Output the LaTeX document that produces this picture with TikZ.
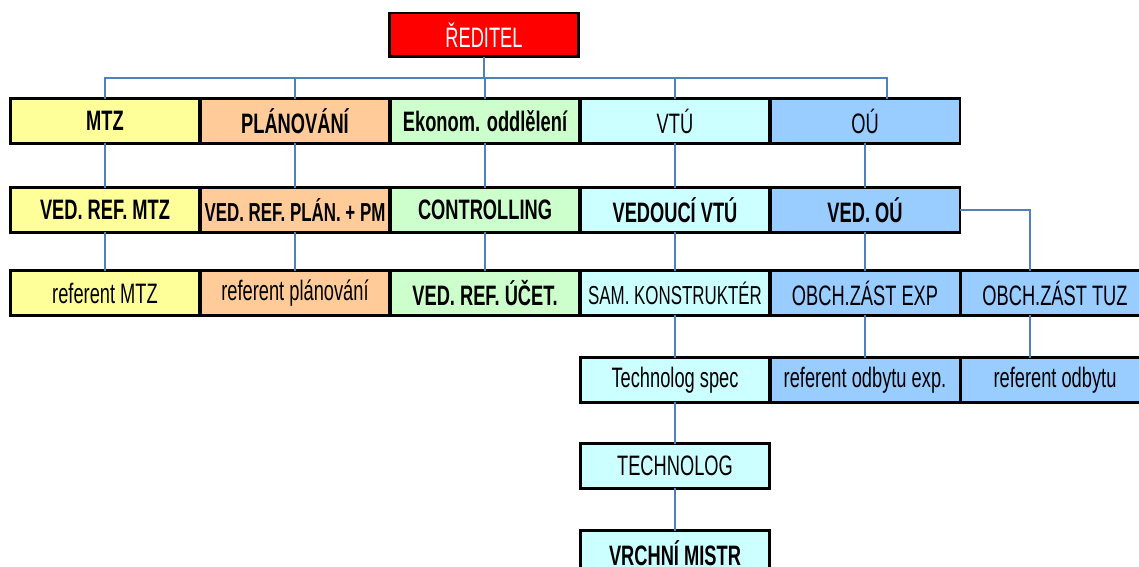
\documentclass[tikz,border=0pt]{standalone}
\usepackage{fontspec}
\setmainfont{Liberation Sans}[FakeStretch=0.65]
\newcommand{\bx}{\fontsize{16}{18}\selectfont}
\newcommand{\sx}{\fontsize{14.8}{17}\selectfont}
\definecolor{yel}{HTML}{FFFF99}
\definecolor{peach}{HTML}{FFCC99}
\definecolor{mint}{HTML}{CCFFCC}
\definecolor{aqua}{HTML}{CCFFFF}
\definecolor{sky}{HTML}{99CCFF}
\definecolor{linkblue}{HTML}{4F81BD}
\tikzset{
  box/.style={draw, line width=1.7pt, minimum width=3.8cm, minimum height=0.9cm,
    inner sep=0pt, outer sep=0pt, font=\bx},
  strong/.style={font=\bx\bfseries},
  link/.style={draw=linkblue, line width=0.8pt}
}
\begin{document}
\begin{tikzpicture}[x=0.02cm, y=-0.02cm]
\clip (0,0) rectangle (1139,567);
\coordinate (bus) at (0,78);

\node[box, fill=red, text=white, minimum height=0.88cm] (reditel) at (484,35) {ŘEDITEL};

\node[box, strong, fill=yel] (mtz) at (105,121) {MTZ};
\node[box, strong, fill=peach] (plan) at (295,121) {PLÁNOVÁNÍ};
\node[box, strong, fill=mint] (ekon) at (485,121) {Ekonom. oddlělení};
\node[box, fill=aqua] (vtu) at (675,121) {VTÚ};
\node[box, fill=sky] (ou) at (865,121) {OÚ};

\node[box, strong, fill=yel] (vrmtz) at (105,210) {VED. REF. MTZ};
\node[box, fill=peach, font=\sx\bfseries] (vrplan) at (295,210) {VED. REF. PLÁN. + PM};
\node[box, strong, fill=mint] (contr) at (485,210) {CONTROLLING};
\node[box, strong, fill=aqua] (vedvtu) at (675,210) {VEDOUCÍ VTÚ};
\node[box, strong, fill=sky] (vedou) at (865,210) {VED. OÚ};

\node[box, fill=yel] (refmtz) at (105,293) {referent MTZ};
\node[box, fill=peach] (refplan) at (295,293) {referent plánování};
\node[box, strong, fill=mint] (vrucet) at (485,293) {VED. REF. ÚČET.};
\node[box, fill=aqua, font=\sx] (samkon) at (675,293) {SAM. KONSTRUKTÉR};
\node[box, fill=sky] (obexp) at (865,293) {OBCH.ZÁST EXP};
\node[box, fill=sky] (obtuz) at (1055,293) {OBCH.ZÁST TUZ};

\node[box, fill=aqua] (tspec) at (675,380) {Technolog spec};
\node[box, fill=sky] (refexp) at (865,380) {referent odbytu exp.};
\node[box, fill=sky] (refodb) at (1055,380) {referent odbytu};

\node[box, fill=aqua] (technolog) at (675,466) {TECHNOLOG};
\node[box, strong, fill=aqua] (vrchni) at (675,553) {VRCHNÍ MISTR};

% vedeni
\draw[link] (reditel.south) -- (reditel.south |- bus);
\draw[link] (mtz.north) |- ([xshift=0.44cm]ou.north |- bus) -- ([xshift=0.44cm]ou.north);
\foreach \n in {plan,ekon,vtu}
\draw[link] (\n.north) -- (\n.north |- bus);

\foreach \a/\b in {mtz/vrmtz, plan/vrplan, ekon/contr, vtu/vedvtu, ou/vedou,
  vrmtz/refmtz, vrplan/refplan, contr/vrucet, vedvtu/samkon, vedou/obexp,
  samkon/tspec, obexp/refexp, tspec/technolog, technolog/vrchni}
\draw[link] (\a) -- (\b);

\draw[link] (vedou.east) -| ([xshift=-0.5cm]obtuz.north);
\draw[link] ([xshift=-0.5cm]obtuz.south) -- ([xshift=-0.5cm]refodb.north);
\end{tikzpicture}
\end{document}
